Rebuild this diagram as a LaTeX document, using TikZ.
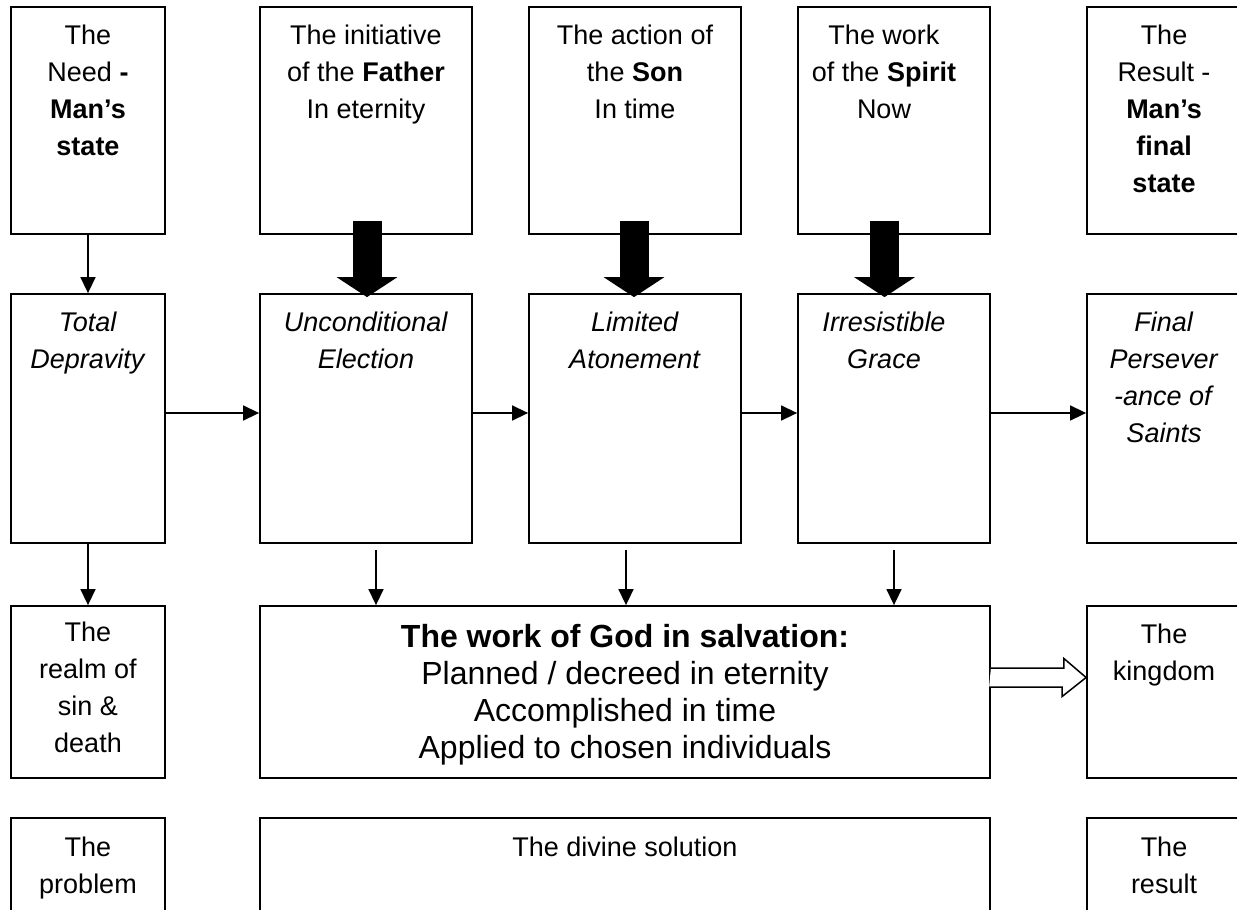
\documentclass[tikz,border=0pt]{standalone}
\usepackage{fontspec}
\setmainfont{Liberation Sans}
\usetikzlibrary{arrows.meta}

\begin{document}
\begin{tikzpicture}[x=0.5pt,y=-0.5pt,line width=0.9pt,
    >={Triangle[length=8pt,width=7.5pt]}]
    \tikzstyle{box}=[draw,inner sep=0pt]
    \tikzstyle{top row}=[box,minimum height=113.5pt]
    \tikzstyle{mid row}=[box,minimum height=124.5pt]
    \tikzstyle{low row}=[box,minimum height=86pt]
    \tikzstyle{txt}=[anchor=north,align=center,inner sep=0pt,font=\fontsize{13.5}{18.5}\selectfont]
    \tikzstyle{big txt}=[txt,font=\fontsize{16}{18.5}\selectfont]
    \tikzstyle{link}=[->,line width=0.75pt]
    \tikzstyle{block}=[-{Triangle[width=30pt,length=10pt]},line width=14.5pt]

    \useasboundingbox (0,0) rectangle (1237,910);

    % Top row: who acts
    \node[top row,minimum width=77pt] (need) at (88,120.5) {};
    \node[top row,minimum width=106pt] (father) at (366,120.5) {};
    \node[top row,minimum width=106pt] (son) at (635,120.5) {};
    \node[top row,minimum width=96pt] (spirit) at (894,120.5) {};
    \node[top row,minimum width=77pt] (result) at (1164,120.5) {};

    \node[txt] (need-t) at ([yshift=-9.2pt]need.north) {The\\Need \textbf{-}\\\textbf{Man’s}\\\textbf{state}};
    \node[txt] (father-t) at ([yshift=-9.2pt]father.north) {The initiative\\of the \textbf{Father}\\In eternity};
    \node[txt] (son-t) at ([yshift=-9.2pt]son.north) {The action of\\the \textbf{Son}\\In time};
    \node[txt] (spirit-t) at ([xshift=-5pt,yshift=-9.2pt]spirit.north) {The work\\of the \textbf{Spirit}\\Now};
    \node[txt] (result-t) at ([yshift=-9.2pt]result.north) {The\\Result -\\\textbf{Man’s}\\\textbf{final}\\\textbf{state}};

    % Second row: the five points
    \node[mid row,minimum width=77pt] (depravity) at (88,418.5) {};
    \node[mid row,minimum width=106pt] (election) at (366,418.5) {};
    \node[mid row,minimum width=106pt] (atonement) at (635,418.5) {};
    \node[mid row,minimum width=96pt] (grace) at (894,418.5) {};
    \node[mid row,minimum width=77pt] (perseverance) at (1164,418.5) {};

    \node[txt] (depravity-t) at ([yshift=-9.2pt]depravity.north) {\textit{Total}\\\textit{Depravity}};
    \node[txt] (election-t) at ([yshift=-9.2pt]election.north) {\textit{Unconditional}\\\textit{Election}};
    \node[txt] (atonement-t) at ([yshift=-9.2pt]atonement.north) {\textit{Limited}\\\textit{Atonement}};
    \node[txt] (grace-t) at ([xshift=-5pt,yshift=-9.2pt]grace.north) {\textit{Irresistible}\\\textit{Grace}};
    \node[txt] (perseverance-t) at ([yshift=-9.2pt]perseverance.north) {\textit{Final}\\\textit{Persever}\\\textit{-ance of}\\\textit{Saints}};

    % Third row
    \node[low row,minimum width=77pt] (realm) at (88,692) {};
    \node[low row,minimum width=365pt] (work) at (625,692) {};
    \node[low row,minimum width=77pt] (kingdom) at (1164,692) {};

    \node[txt] (realm-t) at ([yshift=-8pt]realm.north) {The\\realm of\\sin \&\\death};
    \node[big txt] (work-t) at ([yshift=-9.2pt]work.north) {\textbf{The work of God in salvation:}\\Planned / decreed in eternity\\Accomplished in time\\Applied to chosen individuals};
    \node[txt] (kingdom-t) at ([yshift=-9.2pt]kingdom.north) {The\\kingdom};

    % Bottom row
    \node[low row,minimum width=77pt] (problem) at (88,904) {};
    \node[low row,minimum width=365pt] (solution) at (625,904) {};
    \node[low row,minimum width=77pt] (outcome) at (1164,904) {};

    \node[txt] (problem-t) at ([yshift=-9.6pt]problem.north) {The\\problem};
    \node[txt] (solution-t) at ([yshift=-9.6pt]solution.north) {The divine solution};
    \node[txt] (outcome-t) at ([yshift=-9.6pt]outcome.north) {The\\result};

    % Heavy arrows from the persons
    \draw[block] ([xshift=0.5pt,yshift=7pt]father.south) -- ([xshift=0.5pt,yshift=-2pt]election.north);
    \draw[block] ([xshift=-0.5pt,yshift=7pt]son.south) -- ([xshift=-0.5pt,yshift=-2pt]atonement.north);
    \draw[block] ([xshift=-4.75pt,yshift=7pt]spirit.south) -- ([xshift=-4.75pt,yshift=-2pt]grace.north);

    % Thin arrows
    \draw[link] (need) -- (depravity);
    \draw[link] (depravity) -- (realm);
    \draw[link] ([yshift=2.75pt]depravity.east) -- ([yshift=2.75pt]election.west);
    \draw[link] ([yshift=2.75pt]election.east) -- ([yshift=2.75pt]atonement.west);
    \draw[link] ([yshift=2.75pt]atonement.east) -- ([yshift=2.75pt]grace.west);
    \draw[link] ([yshift=2.75pt]grace.east) -- ([yshift=2.75pt]perseverance.west);

    \coordinate (election-out) at ([xshift=5pt,yshift=-3pt]election.south);
    \coordinate (atonement-out) at ([xshift=-4.5pt,yshift=-3pt]atonement.south);
    \coordinate (grace-out) at ([yshift=-3pt]grace.south);
    \draw[link] (election-out) -- (election-out |- work.north);
    \draw[link] (atonement-out) -- (atonement-out |- work.north);
    \draw[link] (grace-out) -- (grace-out |- work.north);

    % Hollow arrow to the kingdom
    \coordinate (ha) at ([yshift=7.25pt]work.east);
    \coordinate (hb) at ([yshift=7.25pt]kingdom.west);
    \draw[line width=0.75pt,fill=white] (ha) ++(0,-9.5) -- ++(73,0) -- ++(0,-9.5) -- (hb)
        -- ++(-24,19) -- ++(0,-9.5) -- ++(-73,0);
\end{tikzpicture}
\end{document}
